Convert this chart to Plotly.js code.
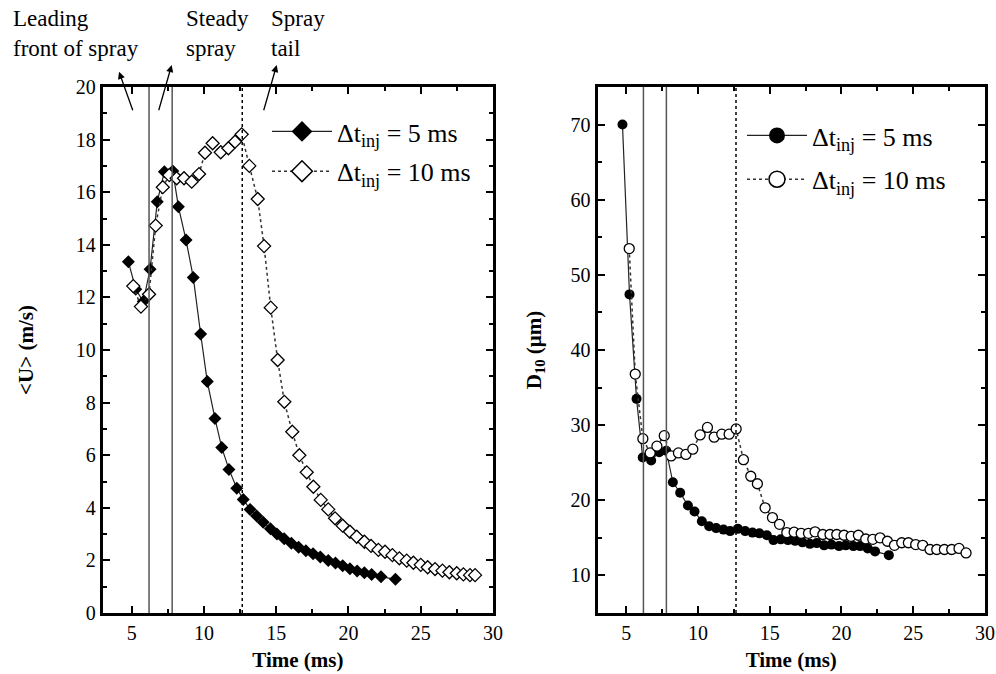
<!DOCTYPE html>
<html><head><meta charset="utf-8">
<script src="https://cdn.plot.ly/plotly-3.0.1.min.js"></script>
<style>html,body{margin:0;padding:0;background:#fff}#chart{width:996px;height:674px}</style>
</head><body><div id="chart"></div>
<script>
// ---- data: left panel, mean velocity <U> (m/s) ----
const timeU5 = [4.77, 5.28, 5.8, 6.27, 6.77, 7.26, 7.84, 8.23, 8.76, 9.26, 9.77, 10.23, 10.76, 11.23, 11.73, 12.27, 12.72, 13.19, 13.65, 14.1, 14.6, 15.05, 15.55, 16.05, 16.55, 17.05, 17.55, 18.05, 18.6, 19.1, 19.6, 20.1, 20.6, 21.1, 21.6, 22.25, 23.25];
const velU5 = [13.36, 12.31, 11.84, 13.07, 15.64, 16.78, 16.81, 15.45, 14.18, 12.76, 10.61, 8.80, 7.40, 6.29, 5.46, 4.74, 4.32, 3.94, 3.69, 3.45, 3.2, 3.0, 2.82, 2.65, 2.5, 2.37, 2.25, 2.13, 2.0, 1.9, 1.8, 1.68, 1.6, 1.53, 1.46, 1.38, 1.28];
const timeU10 = [5.11, 5.64, 6.2, 6.66, 7.15, 7.6, 8.11, 8.62, 9.15, 9.66, 10.07, 10.6, 11.16, 11.69, 12.15, 12.61, 13.14, 13.72, 14.16, 14.62, 15.1, 15.56, 16.11, 16.6, 17.11, 17.57, 18.08, 18.6, 19.07, 19.6, 20.1, 20.57, 21.1, 21.56, 22.07, 22.53, 23.04, 23.52, 24.03, 24.49, 25.0, 25.48, 25.99, 26.5, 26.98, 27.49, 27.95, 28.41, 28.76];
const velU10 = [12.43, 11.65, 12.12, 14.73, 16.19, 16.65, 16.53, 16.53, 16.4, 16.69, 17.5, 17.86, 17.52, 17.67, 17.92, 18.2, 17.0, 15.74, 13.95, 11.61, 9.62, 8.03, 6.89, 6.0, 5.35, 4.80, 4.30, 3.94, 3.6, 3.32, 3.09, 2.9, 2.71, 2.55, 2.4, 2.33, 2.2, 2.08, 1.99, 1.91, 1.83, 1.74, 1.67, 1.61, 1.55, 1.51, 1.47, 1.44, 1.44];

// ---- data: right panel, mean diameter D10 (um) ----
const timeD5 = [4.74, 5.23, 5.72, 6.15, 6.74, 7.3, 7.79, 8.25, 8.76, 9.3, 9.76, 10.27, 10.78, 11.27, 11.78, 12.24, 12.78, 13.29, 13.8, 14.28, 14.8, 15.26, 15.77, 16.27, 16.77, 17.28, 17.8, 18.28, 18.79, 19.3, 19.83, 20.3, 20.83, 21.3, 21.83, 22.34, 23.3];
const diaD5 = [70.0, 47.4, 33.5, 25.7, 25.3, 26.4, 26.6, 22.4, 21.0, 19.3, 18.5, 17.2, 16.55, 16.3, 16.1, 15.9, 16.2, 15.9, 15.7, 15.6, 15.35, 14.7, 14.8, 14.7, 14.6, 14.4, 14.2, 14.3, 14.0, 14.1, 13.9, 14.0, 13.9, 13.9, 13.6, 13.2, 12.7];
const timeD10 = [5.21, 5.63, 6.16, 6.67, 7.14, 7.65, 8.13, 8.64, 9.16, 9.64, 10.15, 10.66, 11.13, 11.66, 12.17, 12.66, 13.17, 13.68, 14.14, 14.68, 15.19, 15.68, 16.19, 16.7, 17.19, 17.7, 18.16, 18.7, 19.2, 19.67, 20.18, 20.67, 21.18, 21.69, 22.18, 22.69, 23.2, 23.69, 24.2, 24.66, 25.17, 25.66, 26.17, 26.64, 27.17, 27.68, 28.19, 28.68];
const diaD10 = [53.5, 36.8, 28.2, 26.3, 27.2, 28.6, 25.9, 26.3, 26.1, 26.8, 28.7, 29.7, 28.4, 28.8, 28.8, 29.5, 25.4, 23.2, 22.2, 19.0, 17.7, 16.8, 15.7, 15.75, 15.6, 15.6, 15.8, 15.45, 15.45, 15.45, 15.35, 15.2, 15.35, 14.85, 14.8, 15.0, 14.55, 14.0, 14.35, 14.35, 14.1, 14.0, 13.45, 13.45, 13.45, 13.45, 13.6, 13.0];

// spray phase boundaries (ms): leading front | steady | tail
const phaseSolid = [6.2, 7.8];
const phaseTail = [12.65];
const seriesNames = ['\u0394t<sub>inj</sub> = 5 ms', '\u0394t<sub>inj</sub> = 10 ms'];
const phaseLabels = ['Leading<br>front of spray', 'Steady<br>spray', 'Spray<br>tail'];

const FONT = "'Liberation Serif', 'Times New Roman', Times, serif";
const W = 996, H = 674;
const px = v => v / W, py = v => 1 - v / H;

function axisStyle(extra) {
  return Object.assign({
    showline: true, linewidth: 3, linecolor: '#000', mirror: 'ticks',
    ticks: 'inside', ticklen: 7, tickwidth: 2, tickcolor: '#000',
    showgrid: false, zeroline: false, automargin: false,
    tickfont: {family: FONT, size: 20, color: '#000'}
  }, extra);
}
function minorStyle(dt, t0) {
  return {ticks: 'inside', ticklen: 4, tickwidth: 2, tickcolor: '#000', dtick: dt, tick0: t0, showgrid: false};
}

const traces = [
  {x: timeU5, y: velU5, xaxis: 'x', yaxis: 'y', mode: 'lines+markers', showlegend: false,
   line: {color: '#222', width: 1.2}, marker: {symbol: 'diamond', size: 10, color: '#000'}},
  {x: timeU10, y: velU10, xaxis: 'x', yaxis: 'y', mode: 'lines+markers', showlegend: false,
   line: {color: '#333', width: 1.5, dash: 'dot'}, marker: {symbol: 'diamond', size: 10, color: '#fff', line: {color: '#000', width: 1.3}}},
  {x: timeD5, y: diaD5, xaxis: 'x2', yaxis: 'y2', mode: 'lines+markers', showlegend: false,
   line: {color: '#222', width: 1.2}, marker: {symbol: 'circle', size: 10, color: '#000'}},
  {x: timeD10, y: diaD10, xaxis: 'x2', yaxis: 'y2', mode: 'lines+markers', showlegend: false,
   line: {color: '#333', width: 1.5, dash: 'dot'}, marker: {symbol: 'circle', size: 10, color: '#fff', line: {color: '#000', width: 1.3}}},
  // legend entries (larger symbols, as in the original key)
  {x: [null], y: [null], xaxis: 'x', yaxis: 'y', mode: 'lines+markers', name: seriesNames[0], legend: 'legend', legendgroup: 'a',
   line: {color: '#222', width: 1.3}, marker: {symbol: 'diamond', size: 18, color: '#000'}},
  {x: [null], y: [null], xaxis: 'x', yaxis: 'y', mode: 'lines+markers', name: seriesNames[1], legend: 'legend', legendgroup: 'b',
   line: {color: '#333', width: 1.5, dash: 'dot'}, marker: {symbol: 'diamond', size: 18, color: '#fff', line: {color: '#000', width: 1.5}}},
  {x: [null], y: [null], xaxis: 'x2', yaxis: 'y2', mode: 'lines+markers', name: seriesNames[0], legend: 'legend2', legendgroup: 'c',
   line: {color: '#222', width: 1.3}, marker: {symbol: 'circle', size: 19, color: '#000'}},
  {x: [null], y: [null], xaxis: 'x2', yaxis: 'y2', mode: 'lines+markers', name: seriesNames[1], legend: 'legend2', legendgroup: 'd',
   line: {color: '#333', width: 1.5, dash: 'dot'}, marker: {symbol: 'circle', size: 19, color: '#fff', line: {color: '#000', width: 1.5}}}
];

const shapes = [];
[['x', 'y'], ['x2', 'y2']].forEach(([xa, ya]) => {
  phaseSolid.forEach(t => shapes.push({type: 'line', xref: xa, yref: ya + ' domain', x0: t, x1: t, y0: 0, y1: 1,
    line: {color: '#555', width: 1.5}}));
  phaseTail.forEach(t => shapes.push({type: 'line', xref: xa, yref: ya + ' domain', x0: t, x1: t, y0: 0, y1: 1,
    line: {color: '#000', width: 1.5, dash: 'dot'}}));
});

const textPos = [[11, 4], [184, 4], [269, 4]];
const arrows = [[119, 71.7, 14.3, 40], [171.7, 65, -13.4, 46.7], [276.7, 65, -13.4, 46.7]];
const annotations = [];
phaseLabels.forEach((t, i) => annotations.push({text: t, xref: 'paper', yref: 'paper', x: px(textPos[i][0]), y: py(textPos[i][1]),
  xanchor: 'left', yanchor: 'top', align: 'left', showarrow: false, font: {family: FONT, size: 23, color: '#000'}}));
arrows.forEach(a => annotations.push({text: '', xref: 'paper', yref: 'paper', x: px(a[0]), y: py(a[1]),
  ax: a[2], ay: a[3], showarrow: true, arrowhead: 2, arrowsize: 1.1, arrowwidth: 1.3, arrowcolor: '#000'}));

const legendStyle = {xanchor: 'left', yanchor: 'top', bgcolor: 'rgba(0,0,0,0)', borderwidth: 0,
  font: {family: FONT, size: 26, color: '#000'}, itemwidth: 60, traceorder: 'grouped'};

const layout = {
  width: W, height: H, margin: {l: 0, r: 0, t: 0, b: 0},
  paper_bgcolor: '#fff', plot_bgcolor: '#fff',
  font: {family: FONT, color: '#000'},
  xaxis: axisStyle({domain: [px(102.8), px(493)], anchor: 'y', range: [3, 30], tick0: 0, dtick: 5,
    minor: minorStyle(2.5, 0),
    title: {text: '<b>Time (ms)</b>', font: {family: FONT, size: 21, color: '#000'}, standoff: 10}}),
  yaxis: axisStyle({domain: [py(613), py(87)], anchor: 'x', range: [0, 20], tick0: 0, dtick: 2,
    minor: minorStyle(1, 0),
    title: {text: '<b>&lt;U&gt; (m/s)</b>', font: {family: FONT, size: 21, color: '#000'}, standoff: 37}}),
  xaxis2: axisStyle({domain: [px(597.5), px(985)], anchor: 'y2', range: [3, 30], tick0: 0, dtick: 5,
    minor: minorStyle(2.5, 0),
    title: {text: '<b>Time (ms)</b>', font: {family: FONT, size: 21, color: '#000'}, standoff: 10}}),
  yaxis2: axisStyle({domain: [py(613), py(87)], anchor: 'x2', range: [5, 75], tick0: 10, dtick: 10,
    minor: minorStyle(5, 5),
    title: {text: '<b>D<sub>10</sub> (\u03bcm)</b>', font: {family: FONT, size: 21, color: '#000'}, standoff: 24}}),
  legend: Object.assign({x: px(267), y: py(108), tracegroupgap: 3}, legendStyle),
  legend2: Object.assign({x: px(742), y: py(112), tracegroupgap: 7}, legendStyle),
  shapes: shapes,
  annotations: annotations
};

Plotly.newPlot('chart', traces, layout, {displayModeBar: false, staticPlot: true});
</script>
</body></html>
